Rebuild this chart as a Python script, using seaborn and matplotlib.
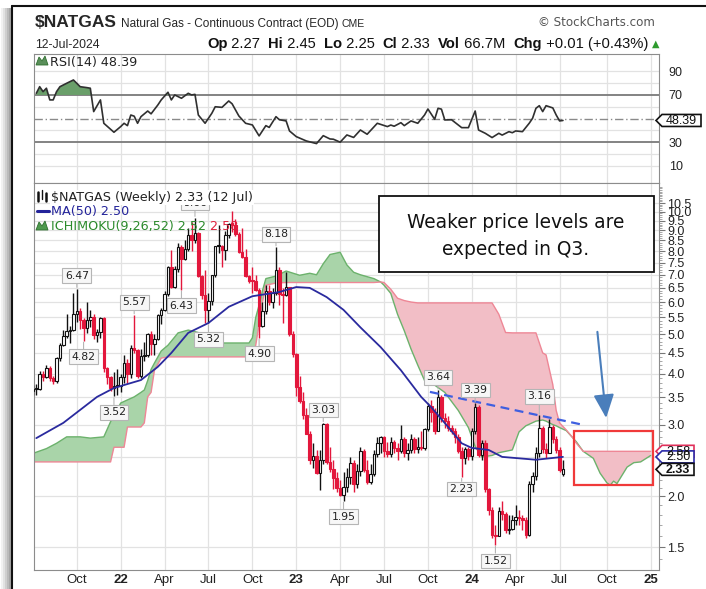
import numpy as np
import pandas as pd
import matplotlib
matplotlib.use("Agg")
import matplotlib.pyplot as plt
import seaborn as sns
from matplotlib.patches import Rectangle, Polygon
from matplotlib.lines import Line2D
from matplotlib import font_manager

# ---------------- data (weekly, first bar = week of 2021-07-05) ----------------
opens = [3.62,3.67,3.68,3.99,3.92,4.13,3.91,3.84,4.37,4.71,4.95,5.09,5.12,5.62,5.69,5.41,5.19,5.43,5.52,4.97,
         5.06,5.48,4.13,3.93,3.69,3.73,3.73,3.92,4.26,3.99,4.64,4.57,3.94,4.43,4.44,5.01,4.73,4.86,5.57,5.72,
         6.28,7.31,6.55,7.24,8.20,7.66,8.08,8.74,8.52,8.85,6.97,6.24,5.73,6.04,7.00,8.23,8.23,8.07,8.77,9.34,
         9.30,8.79,7.98,7.76,6.95,6.77,6.75,6.42,5.25,5.70,6.40,6.00,6.30,7.20,6.28,6.23,6.52,5.02,4.47,3.71,
         3.42,3.17,2.85,2.46,2.51,2.28,2.45,3.01,2.43,2.34,2.22,2.10,2.01,2.11,2.23,2.41,2.14,2.31,2.59,2.32,
         2.17,2.27,2.54,2.71,2.80,2.58,2.54,2.72,2.63,2.58,2.77,2.55,2.60,2.77,2.61,2.64,2.63,2.93,3.34,3.22,
         2.90,3.50,3.12,3.07,2.95,2.90,2.80,2.58,2.49,2.61,2.51,2.89,3.31,2.52,2.71,2.08,1.85,1.61,1.60,1.84,
         1.81,1.65,1.66,1.75,1.78,1.77,1.75,1.61,2.14,2.25,2.55,2.95,2.62,2.55,2.96,2.77,2.60,2.27]
highs = [3.75,3.78,4.06,4.07,4.20,4.18,3.95,4.40,4.75,5.12,5.60,5.25,6.31,6.47,5.80,5.48,6.00,5.75,5.60,5.15,
         5.52,5.50,4.15,3.95,4.05,4.10,4.00,4.45,4.35,4.70,5.57,4.60,4.60,4.80,5.05,5.10,5.00,5.60,5.80,6.40,
         7.35,8.06,7.35,8.40,8.30,8.50,9.10,9.45,9.66,8.90,7.00,7.20,6.30,7.00,8.25,9.30,8.30,8.95,9.40,10.03,
         9.60,8.90,9.10,8.10,7.00,7.30,7.00,6.50,6.00,6.60,6.60,6.50,8.18,7.30,6.50,7.10,6.55,5.10,4.50,3.95,
         3.60,3.30,2.90,2.70,2.60,2.60,3.03,3.02,2.65,2.45,2.30,2.20,2.30,2.35,2.50,2.45,2.40,2.65,2.62,2.45,
         2.40,2.60,2.80,2.82,2.82,2.72,2.80,2.75,2.70,3.00,2.80,2.70,2.85,2.80,2.80,2.90,2.95,3.40,3.45,3.30,
         3.64,3.55,3.20,3.15,3.00,2.95,2.85,2.65,2.65,2.65,2.95,3.39,3.35,2.75,2.75,2.10,1.88,1.70,1.88,1.95,
         1.83,1.80,1.80,1.90,1.85,1.80,1.78,2.18,2.30,2.65,3.16,2.97,2.70,3.10,3.00,2.82,2.65,2.45]
lows = [3.55,3.55,3.65,3.85,3.90,3.85,3.78,3.80,4.30,4.68,4.90,4.75,5.10,5.35,5.15,4.82,5.05,5.20,4.86,4.80,
        4.90,4.05,3.78,3.62,3.52,3.55,3.60,3.80,3.80,3.90,4.50,3.90,3.90,4.30,4.40,4.45,4.45,4.85,5.30,5.70,
        6.20,6.50,6.50,7.10,6.43,7.60,8.00,8.00,8.40,6.91,6.10,5.33,5.32,5.90,6.90,7.90,7.30,7.60,8.60,8.90,
        8.70,7.90,7.70,6.90,6.67,6.30,6.40,4.90,5.20,5.60,5.90,5.80,6.25,5.90,5.33,6.20,4.95,4.40,3.53,3.40,
        3.10,2.84,2.40,2.35,2.27,2.07,2.40,2.40,2.30,2.08,2.05,2.00,1.95,2.05,2.15,2.05,2.10,2.25,2.30,2.15,
        2.15,2.25,2.50,2.55,2.50,2.50,2.50,2.55,2.45,2.55,2.50,2.45,2.55,2.55,2.55,2.60,2.60,2.90,3.05,2.85,
        2.90,3.05,2.95,2.90,2.85,2.70,2.55,2.23,2.40,2.45,2.45,2.85,2.50,2.45,2.05,1.80,1.58,1.52,1.60,1.75,
        1.63,1.62,1.65,1.70,1.70,1.65,1.58,1.60,2.05,2.20,2.50,2.55,2.48,2.55,2.70,2.55,2.30,2.25]
closes = [3.67,3.68,3.99,3.92,4.13,3.91,3.84,4.37,4.71,4.95,5.09,5.12,5.62,5.69,5.41,5.19,5.43,5.52,4.97,5.06,
          5.48,4.13,3.93,3.69,3.73,3.73,3.92,4.26,3.99,4.64,4.57,3.94,4.43,4.44,5.01,4.73,4.86,5.57,5.72,6.28,
          7.31,6.55,7.24,8.20,7.66,8.08,8.74,8.52,8.85,6.97,6.24,5.73,6.04,7.00,8.23,8.23,8.07,8.77,9.34,9.30,
          8.79,7.98,7.76,6.95,6.77,6.75,6.42,5.25,5.70,6.40,6.00,6.30,7.20,6.28,6.23,6.52,5.02,4.47,3.71,3.42,
          3.17,2.85,2.46,2.51,2.28,2.45,3.01,2.43,2.34,2.22,2.10,2.01,2.11,2.23,2.41,2.14,2.31,2.59,2.32,2.17,
          2.27,2.54,2.71,2.80,2.58,2.54,2.72,2.63,2.58,2.77,2.55,2.60,2.77,2.61,2.64,2.63,2.93,3.34,3.22,2.90,
          3.50,3.12,3.07,2.95,2.90,2.80,2.58,2.49,2.61,2.51,2.89,3.31,2.52,2.71,2.08,1.85,1.61,1.60,1.84,1.81,
          1.65,1.66,1.75,1.78,1.77,1.75,1.61,2.14,2.25,2.55,2.95,2.62,2.55,2.96,2.77,2.60,2.32,2.33]

ma_idx = [1, 9, 19, 24, 32, 37, 41, 46, 52, 58, 65, 73, 78, 82, 87, 92, 97, 103, 109, 115, 118, 123, 127, 130, 135, 139, 149, 157]
ma_val = [2.78, 3.03, 3.51, 3.69, 3.86, 4.16, 4.50, 5.04, 5.33, 5.84, 6.20, 6.35, 6.53, 6.50, 6.17, 5.74, 5.20, 4.65,
          4.08, 3.51, 3.31, 2.96, 2.70, 2.63, 2.60, 2.50, 2.46, 2.50]

cloud_idx = [0, 4, 7, 10, 14, 17, 21, 23, 24, 26, 27, 28, 30, 32, 33, 34, 35, 36, 38, 40, 43, 46, 49, 50, 56, 64,
             65, 66, 67, 68, 69, 72, 75, 79, 82, 84, 86, 88, 91, 93, 95, 97, 101, 103, 104, 106, 108, 110, 112, 114,
             116, 119, 122, 126, 129, 131, 133, 136, 138, 140, 142, 144, 146, 149, 151, 152, 154, 155, 156, 158, 160,
             161, 163, 166, 168, 170, 171, 172, 173, 176, 178, 180, 183]
span_a = [2.55, 2.62, 2.70, 2.80, 2.80, 2.78, 2.80, 3.05, 3.15, 3.39, 3.42, 3.45, 3.51, 3.60, 3.65, 3.85, 4.10, 4.25,
          4.55, 4.70, 5.04, 5.12, 5.05, 4.78, 4.76, 4.76, 4.90, 5.50, 5.90, 6.40, 6.85, 6.95, 7.15, 6.98, 7.06, 7.00,
          7.45, 7.85, 7.95, 7.40, 7.10, 7.00, 6.85, 6.72, 6.60, 6.30, 5.60, 5.10, 4.60, 4.20, 3.85, 3.75, 3.60, 3.25,
          2.95, 2.65, 2.50, 2.52, 2.56, 2.58, 2.60, 2.88, 2.98, 3.06, 3.08, 3.06, 3.00, 2.98, 2.95, 2.90, 2.78, 2.72,
          2.58, 2.48, 2.28, 2.16, 2.13, 2.18, 2.15, 2.36, 2.42, 2.43, 2.52]
span_b = [2.43, 2.43, 2.43, 2.43, 2.43, 2.43, 2.43, 2.43, 2.64, 2.64, 2.64, 2.96, 2.96, 2.96, 3.03, 3.51, 3.60, 4.08,
          4.37, 4.40, 4.40, 4.40, 4.40, 4.40, 4.40, 4.40, 4.42, 4.70, 5.30, 6.00, 6.60, 6.68, 6.70, 6.70, 6.70, 6.70,
          6.70, 6.70, 6.70, 6.70, 6.70, 6.70, 6.70, 6.72, 6.70, 6.45, 6.13, 6.05, 6.00, 5.97, 5.97, 5.97, 5.97, 5.97,
          5.97, 5.97, 5.97, 5.97, 5.60, 5.05, 5.04, 5.04, 5.04, 5.04, 4.50, 4.45, 3.76, 3.25, 3.03, 2.91, 2.78, 2.70,
          2.58, 2.58, 2.58, 2.58, 2.58, 2.58, 2.58, 2.58, 2.58, 2.58, 2.58]

rsi_idx = [1, 2, 3, 4, 5, 6, 7, 8, 10, 12, 14, 16, 17, 18, 20, 21, 24, 26, 27, 28, 29, 30, 31, 32, 34, 35, 37, 38, 40,
           41, 42, 44, 46, 47, 48, 49, 51, 53, 54, 56, 58, 59, 61, 63, 65, 67, 69, 70, 72, 73, 75, 76, 78, 81, 84, 86,
           88, 89, 91, 93, 95, 97, 99, 102, 105, 106, 107, 109, 110, 112, 114, 116, 117, 119, 120, 121, 122, 124, 127,
           129, 131, 132, 134, 136, 138, 139, 141, 142, 143, 145, 147, 148, 149, 150, 151, 152, 154, 155, 156, 157]
rsi_val = [71.4, 77.0, 72.8, 75.7, 65.8, 65.8, 72.8, 77.0, 79.9, 82.7, 77.0, 76.2, 75.7, 55.9, 65.8, 46.0, 38.4, 43.2,
           46.0, 44.0, 53.0, 52.0, 46.0, 51.6, 56.4, 54.0, 61.5, 65.8, 72.3, 65.8, 70.0, 67.2, 71.4, 70.0, 70.5, 53.0,
           46.0, 54.5, 60.0, 59.5, 64.9, 62.5, 52.2, 46.0, 44.6, 35.3, 44.0, 42.5, 51.6, 49.0, 48.0, 39.5, 34.7, 31.0,
           28.8, 35.5, 32.7, 32.5, 30.0, 36.1, 34.0, 40.3, 36.7, 46.0, 43.2, 44.5, 43.5, 46.5, 44.0, 48.0, 46.0, 53.0,
           58.1, 49.4, 58.7, 58.0, 48.8, 49.0, 42.3, 42.3, 56.4, 40.3, 37.5, 33.9, 37.5, 36.0, 38.9, 38.0, 39.5, 38.9,
           46.0, 50.2, 58.7, 60.9, 55.9, 60.9, 59.0, 53.0, 48.0, 48.39]

quarter_idx = [13, 26, 39, 52, 65, 78, 91, 104, 117, 130, 143, 156, 170, 183]
quarter_lbl = ['Oct', '22', 'Apr', 'Jul', 'Oct', '23', 'Apr', 'Jul', 'Oct', '24', 'Apr', 'Jul', 'Oct', '25']
price_ticks = [1.5, 2.0, 2.5, 3.0, 3.5, 4.0, 4.5, 5.0, 5.5, 6.0, 6.5, 7.0, 7.5, 8.0, 8.5, 9.0, 9.5, 10.0, 10.5]
rsi_ticks = [10, 30, 70, 90]

label_idx = [13, 15, 24, 30, 44, 48, 52, 67, 72, 86, 92, 120, 127, 131, 137, 150]
label_kind = ['H', 'L', 'L', 'H', 'L', 'H', 'L', 'L', 'H', 'H', 'L', 'H', 'L', 'H', 'L', 'H']

ma_last, ich_a_last, ich_b_last = 2.50, 2.52, 2.58
header_vals = dict(op=2.27, hi=2.45, lo=2.25, cl=2.33, vol='66.7M', chg='+0.01 (+0.43%)')

# ---------------- setup ----------------
sns.set_theme(style="white")
names = {f.name for f in font_manager.fontManager.ttflist}
NARROW = 'Liberation Sans Narrow' if 'Liberation Sans Narrow' in names else 'Liberation Sans'
plt.rcParams['font.family'] = ['Liberation Sans', 'DejaVu Sans']

W, H = 706, 589
fig = plt.figure(figsize=(W / 100, H / 100), dpi=100)
fig.patch.set_facecolor('white')
renderer = fig.canvas.get_renderer()


def P(x, y):
    return (x / W, 1 - y / H)


def axrect(l, t, r, b):
    return [l / W, 1 - b / H, (r - l) / W, (b - t) / H]


ax_r = fig.add_axes(axrect(34, 54, 659, 183))
ax = fig.add_axes(axrect(34, 183, 659, 570))

XL = (0.32, 185.45)
GRID = '#e2e2e2'
SPINE = '#8c8c8c'

# ---------------- price panel ----------------
ax.set_yscale('log')
ax.set_xlim(*XL)
ax.set_ylim(1.319, 11.76)

ai = np.array(cloud_idx, float)
a = np.array(span_a)
b = np.array(span_b)
ax.fill_between(ai, a, b, where=a >= b, interpolate=True, color='#a9d4a9', lw=0, zorder=1)
ax.fill_between(ai, a, b, where=a < b, interpolate=True, color='#f2bec6', lw=0, zorder=1)
ax.plot(ai, a, color='#6cb26c', lw=1.0, zorder=2)
ax.plot(ai, b, color='#ee8796', lw=1.0, zorder=2)

df = pd.DataFrame(dict(i=np.arange(len(closes)), o=opens, h=highs, l=lows, c=closes))
prev = df['c'].shift(1).fillna(df['o'])
up = df['c'] >= prev
col = np.where(up, '#111111', '#e3173c')
ax.vlines(df['i'], df['l'], df['h'], colors=col, lw=1.0, zorder=3)
lo_b = np.minimum(df['o'], df['c'])
hi_b = np.maximum(df['o'], df['c'])
hgt = np.maximum(hi_b - lo_b, lo_b * 0.006)
fc = np.where(df['c'] > df['o'], 'white', col)
ax.bar(df['i'], hgt, bottom=lo_b, width=0.75, color=fc, edgecolor=col, linewidth=0.8, zorder=4)

sns.lineplot(x=ma_idx, y=ma_val, ax=ax, color='#2a2a9e', lw=1.3, zorder=5)

ax.set_yticks(price_ticks)
# the 2.5 label sits behind the value tags in the reference, so it is left blank
ax.set_yticklabels(["" if v == 2.5 else f"{v:.1f}" for v in price_ticks])
ax.yaxis.set_minor_locator(matplotlib.ticker.FixedLocator(np.round(np.arange(1.4, 11.6, 0.1), 2)))
ax.yaxis.set_minor_formatter(matplotlib.ticker.NullFormatter())
ax.yaxis.tick_right()
ax.tick_params(axis='y', which='major', length=4, width=0.8, color='#777777', labelsize=9, pad=2,
               labelcolor='#222222')
ax.tick_params(axis='y', which='minor', length=2, width=0.6, color='#999999')
ax.set_xticks(quarter_idx)
ax.set_xticklabels(quarter_lbl)
for t, s in zip(ax.get_xticklabels(), quarter_lbl):
    if s.isdigit():
        t.set_fontweight('bold')
ax.tick_params(axis='x', length=0, labelsize=9.5, pad=3, labelcolor='#222222')
ax.grid(True, which='major', color=GRID, lw=0.9)
ax.set_axisbelow(True)
for s in ax.spines.values():
    s.set_color(SPINE)
    s.set_linewidth(0.8)
ax.set_xlabel('')
ax.set_ylabel('')

# price labels
dy_px = {'H': -13, 'L': 16}
special = {150: -19, 127: 12, 48: -15}
for i, k in zip(label_idx, label_kind):
    v = highs[i] if k == 'H' else lows[i]
    dy = special.get(i, dy_px[k])
    ax.annotate(f"{v:.2f}", xy=(i, v), xytext=(0, -dy * 0.72), textcoords='offset points',
                ha='center', va='center', fontsize=7.8, family='DejaVu Sans', color='#222222',
                bbox=dict(boxstyle='square,pad=0.22', fc='#f7f7f7', ec='#b5b5b5', lw=0.8),
                arrowprops=dict(arrowstyle='-', color='#b5b5b5', lw=0.8, shrinkA=0, shrinkB=1),
                zorder=8)

# trend line, arrow, red box
ax.plot([117.6, 163.5], [3.61, 2.99], color='#3f5fe0', lw=1.6, ls=(0, (4, 2.5)), zorder=6)
ax.annotate('', xy=(169.8, 3.115), xytext=(167.2, 5.07),
            arrowprops=dict(arrowstyle='-|>,head_length=0.8,head_width=0.35', color='#4a7ebb', lw=1.5,
                            mutation_scale=18, shrinkA=0, shrinkB=0), zorder=7)
ax.add_patch(Rectangle((160.3, 2.133), 23.3, 2.90 - 2.133, fill=False, ec='#f03a3a', lw=1.6, zorder=7))

# ---------------- RSI panel ----------------
ax_r.set_xlim(*XL)
ax_r.set_ylim(-4.6, 104.7)
rx = np.array(rsi_idx, float)
rv = np.array(rsi_val)
ax_r.fill_between(rx, rv, 70, where=rv > 70, interpolate=True, color='#6a9f6a', lw=0, zorder=2)
for g in [10, 20, 40, 60, 80, 90]:
    ax_r.axhline(g, color=GRID, lw=0.9, zorder=0)
ax_r.axhline(70, color='#7a7a7a', lw=1.3, zorder=1)
ax_r.axhline(30, color='#7a7a7a', lw=1.3, zorder=1)
ax_r.axhline(50, color='#8a8a8a', lw=1.0, ls=(0, (6, 2, 1, 2)), zorder=1)
sns.lineplot(x=rx, y=rv, ax=ax_r, color='#303030', lw=1.2, zorder=3)
ax_r.set_yticks(rsi_ticks)
ax_r.yaxis.tick_right()
ax_r.tick_params(axis='y', length=0, labelsize=9, pad=7, labelcolor='#222222')
ax_r.set_xticks(quarter_idx)
ax_r.set_xticklabels([])
ax_r.tick_params(axis='x', length=0)
ax_r.grid(True, axis='x', color=GRID, lw=0.9)
ax_r.set_axisbelow(True)
for s in ax_r.spines.values():
    s.set_color(SPINE)
    s.set_linewidth(0.8)
ax_r.set_xlabel('')
ax_r.set_ylabel('')


# ---------------- text helpers ----------------
def seq(x, y, parts, size, target_w=None, **common):
    texts = []
    for s, kw in parts:
        d = dict(common)
        d.update(kw)
        texts.append(fig.text(*P(x, y), s, fontsize=size, va='baseline', ha='left', **d))
    widths = [t.get_window_extent(renderer).width for t in texts]
    scale = 1.0 if target_w is None else target_w / sum(widths)
    cx = x
    for t, w in zip(texts, widths):
        t.set_fontsize(size * scale)
        t.set_position(P(cx, y))
        cx += w * scale
    return texts


# header
seq(35, 27, [("$NATGAS", dict(fontweight='bold'))], 15, target_w=82, family=[NARROW, 'DejaVu Sans'])
seq(121, 27, [("Natural Gas - Continuous Contract (EOD)", {})], 11, target_w=216, family=[NARROW, 'DejaVu Sans'])
seq(341, 27, [("CME", {})], 8.5, target_w=23, family=['Liberation Sans', 'DejaVu Sans'])
seq(538, 26, [("© StockCharts.com", {})], 9.5, target_w=117, family=['DejaVu Sans'], color='#555555')
seq(35, 48, [("12-Jul-2024", {})], 11, target_w=65, family=[NARROW, 'DejaVu Sans'])
hv = header_vals
bold = dict(fontweight='bold')
row2 = [("Op", bold), (f" {hv['op']:.2f}  ", {}), ("Hi", bold), (f" {hv['hi']:.2f}  ", {}),
        ("Lo", bold), (f" {hv['lo']:.2f}  ", {}), ("Cl", bold), (f" {hv['cl']:.2f}  ", {}),
        ("Vol", bold), (f" {hv['vol']}  ", {}), ("Chg", bold), (f" {hv['chg']}", {})]
seq(207, 48, row2, 11, target_w=440, family=[NARROW, 'DejaVu Sans'], color='#111111')
fig.text(*P(652, 47), "▲", fontsize=7, color='#2e9b2e', va='baseline', family=['DejaVu Sans'])

# legends inside panels
leg = dict(family=['DejaVu Sans'])
seq(50, 66, [("RSI(14) 48.39", {})], 9.2, **leg, color='#222222')
t1 = seq(51, 201, [("$NATGAS (Weekly) 2.33 (12 Jul)", {})], 9.2, **leg, color='#222222')
t1[0].set_bbox(dict(fc='white', ec='none', pad=0.6))
t1[0].set_zorder(20)
seq(51, 215, [(f"MA(50) {ma_last:.2f}", {})], 9.2, **leg, color='#23239a')
seq(51, 230, [(f"ICHIMOKU(9,26,52) {ich_a_last:.2f}", {}), (f" {ich_b_last:.2f}", dict(color='#e0203c'))], 9.2,
    **leg, color='#2b8a2b')

# icons
fig.add_artist(Line2D([P(37, 211)[0], P(49, 211)[0]], [P(37, 211)[1]] * 2, color='#23239a', lw=2.2))
for (x0, y0) in [(36, 230), (36, 65)]:
    pts = [(x0, y0), (x0 + 3, y0 - 8), (x0 + 6, y0 - 4), (x0 + 9, y0 - 9), (x0 + 12, y0)]
    clr = '#4f9a4f' if y0 > 100 else '#5a8f5a'
    fig.add_artist(Polygon([P(*p) for p in pts], closed=True, transform=fig.transFigure, fc=clr, ec='#2f6f2f', lw=0.6))
for k, (x0, yt, yb) in enumerate([(38, 192, 201), (42, 190, 199), (46, 193, 201)]):
    fig.add_artist(Line2D([P(x0, 0)[0]] * 2, [P(0, yt)[1], P(0, yb)[1]], color='#111111', lw=1.8 if k != 1 else 1.0))

# annotation box
fig.add_artist(Rectangle(P(379, 272), (654 - 379) / W, (272 - 196) / H, transform=fig.transFigure,
                         fc='white', ec='#111111', lw=1.3, zorder=15))
seq(407, 228, [("Weaker price levels are", {})], 14, target_w=219, family=['DejaVu Sans'], color='#111111',
    zorder=16)
seq(442, 255, [("expected in Q3.", {})], 14, target_w=148, family=['DejaVu Sans'], color='#111111', zorder=16)


# right-edge value tags
def tag(axis, v, text, ec, bold=False, x0=656, x1=694, h=12):
    yp = H - axis.transData.transform((XL[0], v))[1]
    pts = [(x0, yp), (x0 + 6, yp - h / 2), (x1, yp - h / 2), (x1, yp + h / 2), (x0 + 6, yp + h / 2)]
    fig.add_artist(Polygon([P(*p) for p in pts], closed=True, transform=fig.transFigure,
                           fc='white', ec=ec, lw=1.2, zorder=30))
    fig.text(*P((x0 + 6 + x1) / 2, yp + 0.5), text, ha='center', va='center', fontsize=9,
             fontweight='bold' if bold else 'normal', color='#111111', zorder=31)


tag(ax, ich_b_last, f"{ich_b_last:.2f}", '#e0305a')
tag(ax, ma_last, f"{ma_last:.2f}", '#2a2aa8')
tag(ax, closes[-1], f"{closes[-1]:.2f}", '#111111', bold=True)
tag(ax_r, rsi_val[-1], f"{rsi_val[-1]:.2f}", '#111111', x1=701)

# outer frame + shadow
for k, g in enumerate(['#f2f2f2', '#e2e2e2', '#cfcfcf', '#bbbbbb', '#a6a6a6']):
    fig.add_artist(Rectangle(P(1 + 2 * k, 589), 2 / W, (589 - 8) / H, transform=fig.transFigure,
                             fc=g, ec='none', zorder=0))
fig.add_artist(Line2D([P(11.5, 0)[0]] * 2, [P(0, 6)[1], P(0, 589)[1]], color='#111111', lw=1.5))
fig.add_artist(Line2D([P(11.5, 0)[0], 1.0], [P(0, 6)[1]] * 2, color='#111111', lw=1.5))

fig.savefig('out.png', dpi=100)
